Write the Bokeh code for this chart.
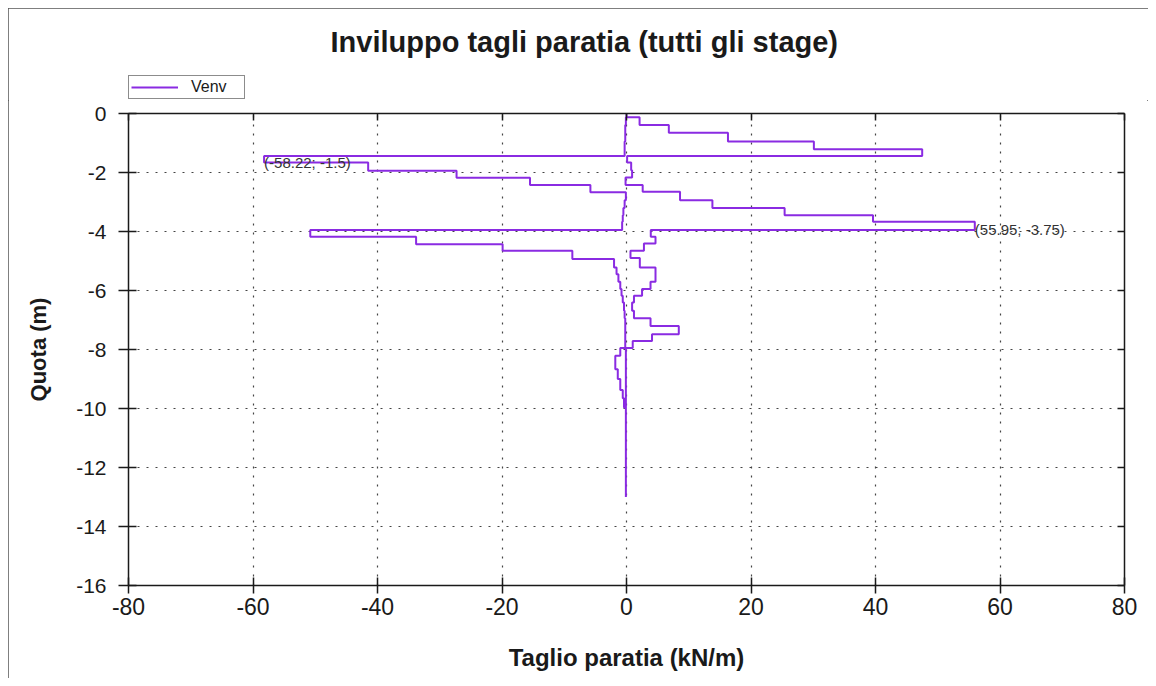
from bokeh.plotting import figure
from bokeh.layouts import column
from bokeh.models import (LinearAxis, Range1d, Legend, LegendItem, Label,
                          FixedTicker, ColumnDataSource)
from bokeh.embed import file_html
from bokeh.resources import INLINE

# ---------------- data ----------------
title_text = "Inviluppo tagli paratia (tutti gli stage)"
x_label = "Taglio paratia (kN/m)"
y_label = "Quota (m)"
series_name = "Venv"

x_ticks = [-80, -60, -40, -20, 0, 20, 40, 60, 80]
x_tick_labels = ["-80", "-60", "-40", "-20", "0", "20", "40", "60", "80"]
y_ticks = [0, -2, -4, -6, -8, -10, -12, -14, -16]
y_tick_labels = ["0", "-2", "-4", "-6", "-8", "-10", "-12", "-14", "-16"]

# upper (max) envelope: step boundaries (m) and shear values (kN/m)
max_z = [0, -0.13, -0.39, -0.65, -0.95, -1.21, -1.44, -1.66, -1.92, -2.17,
         -2.42, -2.65, -2.94, -3.20, -3.45, -3.67, -3.95, -4.18, -4.41, -4.65,
         -4.90, -5.22, -5.70, -5.95, -6.18, -6.41, -6.69, -6.94, -7.20, -7.48,
         -7.71, -7.95, -13.0]
max_v = [0.0, 2.1, 6.8, 16.3, 30.1, 47.5, 0.1, 0.75, 0.9, -0.15,
         2.6, 8.6, 13.8, 25.4, 39.6, 55.95, 3.9, 4.66, 2.8, 0.64,
         2.14, 4.66, 3.86, 2.5, 1.2, 0.9, 1.2, 3.86, 8.4, 4.1,
         1.0, -0.1]

# lower (min) envelope
min_z = [0, -0.13, -0.39, -0.65, -0.95, -1.21, -1.44, -1.66, -1.94, -2.18,
         -2.42, -2.67, -2.94, -3.20, -3.45, -3.67, -3.95, -4.18, -4.43, -4.65,
         -4.93, -5.22, -5.45, -5.70, -5.95, -6.18, -6.41, -6.69, -6.94, -7.20,
         -7.48, -7.71, -7.95, -8.21, -8.67, -9.00, -9.37, -9.65, -9.97, -13.0]
min_v = [0.0, -0.1, -0.2, -0.2, -0.3, -0.3, -58.22, -41.5, -27.3, -15.5,
         -5.8, -0.1, -0.3, -0.5, -0.6, -0.7, -50.8, -33.8, -19.9, -8.7,
         -2.0, -1.6, -1.3, -1.0, -0.8, -0.6, -0.4, -0.3, -0.2, -0.2,
         -0.2, -0.2, -1.0, -1.8, -1.4, -1.0, -0.6, -0.4, -0.1]

min_point = (-58.22, -1.5)
max_point = (55.95, -3.75)

# ---------------- build step polyline ----------------
xs, ys = [], []
for i, v in enumerate(max_v):
    xs += [v, v]
    ys += [max_z[i], max_z[i + 1]]
for i in range(len(min_v) - 1, -1, -1):
    xs += [min_v[i], min_v[i]]
    ys += [min_z[i + 1], min_z[i]]
src = ColumnDataSource(dict(x=xs, y=ys))

FONT = "Liberation Sans"
DARK = "#1a1a1a"
PURPLE = "#8a2be2"
LINE_KW = dict(line_color=PURPLE, line_width=2)

# ---------------- header (title + legend) ----------------
# its y range lies above every data value, so its line only feeds the legend
head = figure(width=1140, height=92, x_range=Range1d(-80, 80), y_range=Range1d(1, 2),
              x_axis_location=None, y_axis_location=None,
              output_backend="svg", toolbar_location=None,
              min_border_left=120, min_border_right=24,
              min_border_top=0, min_border_bottom=0,
              background_fill_color="white", border_fill_color="white",
              outline_line_color=None, title=title_text)
head.xgrid.visible = False
head.ygrid.visible = False
legend_line = head.line("x", "y", source=src, **LINE_KW)
head.title.align = "left"
head.title.offset = 202
head.title.standoff = 30
head.title.text_font = FONT
head.title.text_font_size = "29px"
head.title.text_font_style = "bold"
head.title.text_color = DARK

legend = Legend(items=[LegendItem(label=series_name, renderers=[legend_line])],
                location=(0, 1), orientation="vertical",
                border_line_color=DARK, border_line_width=1,
                padding=2, spacing=0, margin=0,
                glyph_width=47, glyph_height=16, label_standoff=13,
                label_width=51, label_height=16,
                label_text_font=FONT, label_text_font_size="16px",
                label_text_color=DARK, background_fill_color="white",
                background_fill_alpha=1.0)
head.add_layout(legend, "center")

# ---------------- main plot ----------------
p = figure(frame_width=996, frame_height=472,
           x_range=Range1d(-80, 80), y_range=Range1d(-16, 0),
           output_backend="svg", toolbar_location=None,
           min_border_left=120, min_border_right=24,
           min_border_top=13, min_border_bottom=93,
           background_fill_color="white", border_fill_color="white",
           outline_line_color=None)

r = p.line("x", "y", source=src, **LINE_KW)

xt = FixedTicker(ticks=x_ticks, num_minor_ticks=4)
yt = FixedTicker(ticks=y_ticks, num_minor_ticks=4)

bx = p.xaxis[0]
ly = p.yaxis[0]
bx.ticker = xt
ly.ticker = yt
bx.major_label_overrides = dict(zip(x_ticks, x_tick_labels))
ly.major_label_overrides = dict(zip(y_ticks, y_tick_labels))
top = LinearAxis(ticker=xt)
rgt = LinearAxis(ticker=yt)
p.add_layout(top, "above")
p.add_layout(rgt, "right")

for ax in (bx, ly, top, rgt):
    ax.axis_line_color = DARK
    ax.axis_line_width = 1.5
    ax.major_tick_line_color = DARK
    ax.minor_tick_line_color = DARK
    ax.major_tick_line_width = 1.5
    ax.minor_tick_line_width = 1.2
    ax.major_label_text_font = FONT
    ax.major_label_text_color = DARK
    ax.axis_label_text_font = FONT
    ax.axis_label_text_font_style = "bold"
    ax.axis_label_text_color = DARK

for ax in (top, rgt):
    ax.major_tick_in = 7
    ax.major_tick_out = 0
    ax.minor_tick_in = 4
    ax.minor_tick_out = 0
    ax.major_label_text_font_size = "0px"
    ax.major_label_text_color = None
    ax.major_label_standoff = 0

bx.major_tick_in = 8
bx.major_tick_out = 8
bx.minor_tick_in = 4
bx.minor_tick_out = 4
bx.major_label_text_font_size = "23px"
bx.major_label_standoff = 4
bx.axis_label = x_label
bx.axis_label_text_font_size = "24px"
bx.axis_label_standoff = 26

ly.major_tick_in = 8
ly.major_tick_out = 10
ly.minor_tick_in = 4
ly.minor_tick_out = 4
ly.major_label_text_font_size = "21px"
ly.major_label_standoff = 12
ly.axis_label = y_label
ly.axis_label_text_font_size = "22px"
ly.axis_label_standoff = 22

for g in (p.xgrid[0], p.ygrid[0]):
    g.grid_line_color = "#444444"
    g.grid_line_dash = "2 7"
    g.grid_line_width = 1.2
p.xgrid[0].ticker = xt
p.ygrid[0].ticker = yt

for pt in (min_point, max_point):
    p.add_layout(Label(x=pt[0], y=pt[1], text=f"({pt[0]}; {pt[1]})",
                       text_baseline="middle", text_align="left",
                       y_offset=-5, text_font=FONT, text_font_size="15px",
                       text_color="#333333"))

page = column(head, p, spacing=0)
page.margin = (8, 8, 8, 8)
page.styles = {"outline": "1px solid #555555", "outline-offset": "-1px"}

open("out.html", "w").write(file_html(page, INLINE))
